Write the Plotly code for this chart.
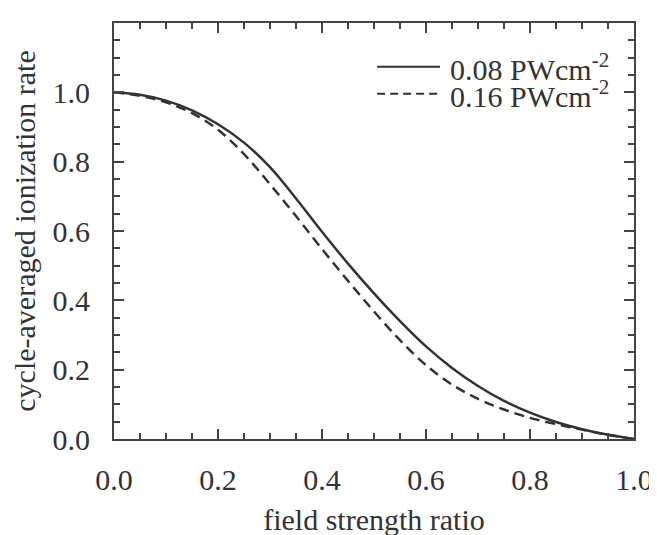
import plotly.graph_objects as go

ratio = [0.0, 0.05, 0.1, 0.15, 0.2, 0.25, 0.3, 0.35, 0.4, 0.45, 0.5,
         0.55, 0.6, 0.65, 0.7, 0.75, 0.8, 0.85, 0.9, 0.95, 1.0]

# 0.08 PW/cm^2 (solid)
rate_008 = [1.000, 0.993, 0.976, 0.948, 0.908, 0.855, 0.784, 0.694, 0.598, 0.506,
            0.420, 0.340, 0.267, 0.205, 0.153, 0.110, 0.076, 0.049, 0.028, 0.012, 0.000]
# 0.16 PW/cm^2 (dashed)
rate_016 = [1.000, 0.990, 0.971, 0.940, 0.892, 0.822, 0.735, 0.643, 0.548, 0.456,
            0.368, 0.285, 0.213, 0.157, 0.116, 0.085, 0.061, 0.043, 0.027, 0.012, 0.000]

names = ["0.08 PWcm<sup>-2</sup>", "0.16 PWcm<sup>-2</sup>"]
dashes = ["solid", "10px,6px"]

ink = "#333333"
font = "Liberation Serif, Times New Roman, serif"

fig = go.Figure()
for ys, nm, dsh in zip([rate_008, rate_016], names, dashes):
    fig.add_trace(go.Scatter(x=ratio, y=ys, mode="lines", name=nm, showlegend=False,
                             line=dict(color=ink, width=2.5, dash=dsh, shape="spline")))

axis_common = dict(
    showline=True, linecolor="#444444", linewidth=2, mirror="allticks",
    ticks="inside", ticklen=10, tickwidth=2, tickcolor="#444444",
    showgrid=False, zeroline=False, tickformat=".1f",
    tickfont=dict(family=font, size=30, color=ink),
    minor=dict(ticks="inside", ticklen=6, tickwidth=1.5, tickcolor="#444444", dtick=0.05),
)

fig.update_xaxes(range=[0, 1.0], dtick=0.2, ticklabelstandoff=13,
                 title=dict(text="field strength ratio", standoff=14,
                            font=dict(family=font, size=30, color=ink)),
                 **axis_common)
fig.update_yaxes(range=[0, 1.2], tickvals=[0, 0.2, 0.4, 0.6, 0.8, 1.0], ticklabelstandoff=16,
                 title=dict(text="cycle-averaged ionization rate", standoff=10,
                            font=dict(family=font, size=30, color=ink)),
                 **axis_common)

# hand-made legend so the rows sit as close as in the original
leg_y = [0.895, 0.830]
for yy, nm, dsh in zip(leg_y, names, ["solid", "8px,5px"]):
    fig.add_shape(type="line", xref="paper", yref="paper", x0=0.506, x1=0.627, y0=yy, y1=yy,
                  line=dict(color=ink, width=2, dash=dsh))
    fig.add_annotation(xref="paper", yref="paper", x=0.642, y=yy, text=nm, showarrow=False,
                       xanchor="left", yanchor="middle",
                       font=dict(family=font, size=30, color=ink))

fig.update_layout(
    width=657, height=535,
    margin=dict(l=106, r=23, t=15, b=84),
    plot_bgcolor="white", paper_bgcolor="white",
    font=dict(family=font, size=30, color=ink),
    showlegend=False,
)

fig.write_html("out.html")
